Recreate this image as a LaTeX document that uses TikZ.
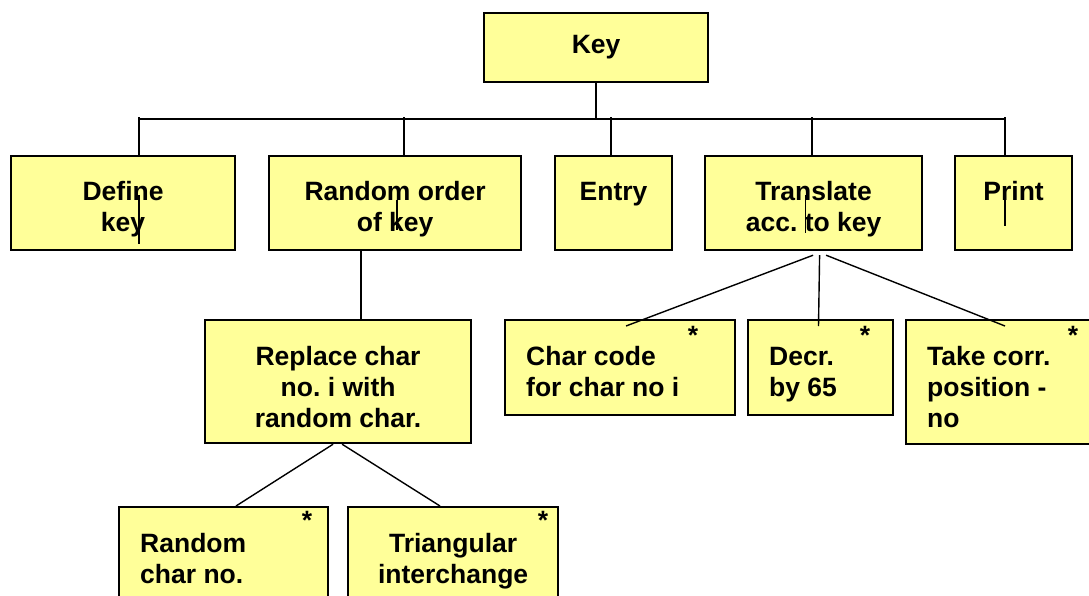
\documentclass[tikz,border=0pt]{standalone}
\usepackage{fontspec}
\setmainfont{Liberation Sans}
\usetikzlibrary{positioning, calc}
\definecolor{boxyellow}{HTML}{FFFF99}
\frenchspacing

\begin{document}
\begin{tikzpicture}[
        x=1pt, y=-1pt,
        box/.style={rectangle, draw, line width=2.2pt, fill=boxyellow, anchor=north west, inner sep=0pt},
        txt/.style={font=\fontsize{26.5}{31.3}\selectfont\bfseries, inner sep=0pt, align=center, anchor=north},
        txtl/.style={txt, align=left, anchor=north west},
        star/.style={font=\fontsize{26.5}{31.3}\selectfont\bfseries, inner sep=0pt, anchor=north},
        conn/.style={line width=1.4pt},
    ]
    \useasboundingbox (0,0) rectangle (1089,595);

    % Top node
    \node[box, minimum width=224pt, minimum height=69pt, font=\fontsize{26.5}{31.3}\selectfont\bfseries] (key) at (483,12) {Key};

    % First level
    \node[box, minimum width=224pt, minimum height=94pt] (define)  at (10,155)  {};
    \node[box, minimum width=252pt, minimum height=94pt] (randord) at (268,155) {};
    \node[box, minimum width=117pt, minimum height=94pt] (entry)   at (554,155) {};
    \node[box, minimum width=217pt, minimum height=94pt] (transl)  at (704,155) {};
    \node[box, minimum width=117pt, minimum height=94pt] (print)   at (954,155) {};

    \node[txt] (define-t)  at ($(define.north)+(0,23)$)  {\strut Define\\key};
    \node[txt] (randord-t) at ($(randord.north)+(0,23)$) {\strut Random order\\of key};
    \node[txt] (entry-t)   at ($(entry.north)+(0,23)$)   {\strut Entry};
    \node[txt] (transl-t)  at ($(transl.north)+(0,23)$)  {\strut Translate\\acc. to key};
    \node[txt] (print-t)   at ($(print.north)+(0,23)$)   {\strut Print};

    % Second level
    \node[box, minimum width=266pt, minimum height=123pt] (replace)  at (204,319) {};
    \node[box, minimum width=230pt, minimum height=95pt]  (charcode) at (504,319) {};
    \node[box, minimum width=145pt, minimum height=95pt]  (decr)     at (747,319) {};
    \node[box, minimum width=200pt, minimum height=124pt] (takecorr) at (905,319) {};

    \node[txt]  (replace-t)  at ($(replace.north)+(0,24)$)       {\strut Replace char\\no. i with\\random char.};
    \node[txtl] (charcode-t) at ($(charcode.north west)+(22,24)$) {\strut Char code\\for char no i};
    \node[txtl] (decr-t)     at ($(decr.north west)+(22,24)$)     {\strut Decr.\\by 65};
    \node[txtl] (takecorr-t) at ($(takecorr.north west)+(22,24)$) {\strut Take corr.\\position -\\no};

    % Third level
    \node[box, minimum width=209pt, minimum height=110pt] (randchar) at (118,506) {};
    \node[box, minimum width=210pt, minimum height=110pt] (triang)   at (347,506) {};

    \node[txtl] (randchar-t) at ($(randchar.north west)+(22,24)$) {\strut Random\\char no.};
    \node[txt]  (triang-t)   at ($(triang.north)+(0,24)$)         {\strut Triangular\\interchange};

    % Marks
    \node[star] (s1) at (307,511) {*};
    \node[star] (s2) at (543,511) {*};
    \node[star] (s3) at (693,326) {*};
    \node[star] (s4) at (865,326) {*};
    \node[star] (s5) at (1073,326) {*};

    % Bus from the top node
    \coordinate (busl) at (139,119);
    \coordinate (busr) at (1005,119);
    \draw[conn] (key.south) -- (key.south |- busl);
    \draw[conn] (busl) -- (busr);
    \foreach \n/\x in {define/139, randord/404, entry/611, transl/812, print/1005}
        \draw[conn] (\x,117) -- (\x,117 |- \n.north);

    % Stray stubs inside boxes
    \draw[conn] ($(define.north west)+(129,40)$) -- ++(0,49);
    \draw[conn] ($(randord.north west)+(129,45)$) -- ++(0,30);
    \draw[conn] ($(transl.north west)+(101.6,40)$) -- ++(0,38);
    \draw[conn] ($(print.north west)+(51,43)$) -- ++(0,28);

    % Lower connectors
    \draw[conn] ($(randord.south west)+(93,0)$) -- ($(replace.north west)+(157,0)$);
    \draw[conn] ($(replace.south)+(-5,0)$) -- ($(randchar.north west)+(118,0)$);
    \draw[conn] ($(replace.south)+(4,0)$)  -- ($(triang.north west)+(93,0)$);
    \draw[conn] ($(transl.south)+(-0.5,4)$) -- ($(charcode.north west)+(122,7)$);
    \draw[conn] ($(transl.south)+(6,4)$)    -- ($(decr.north west)+(71.5,7)$);
    \draw[conn] ($(transl.south)+(12.5,4)$) -- ($(takecorr.north west)+(100,7)$);
\end{tikzpicture}
\end{document}
